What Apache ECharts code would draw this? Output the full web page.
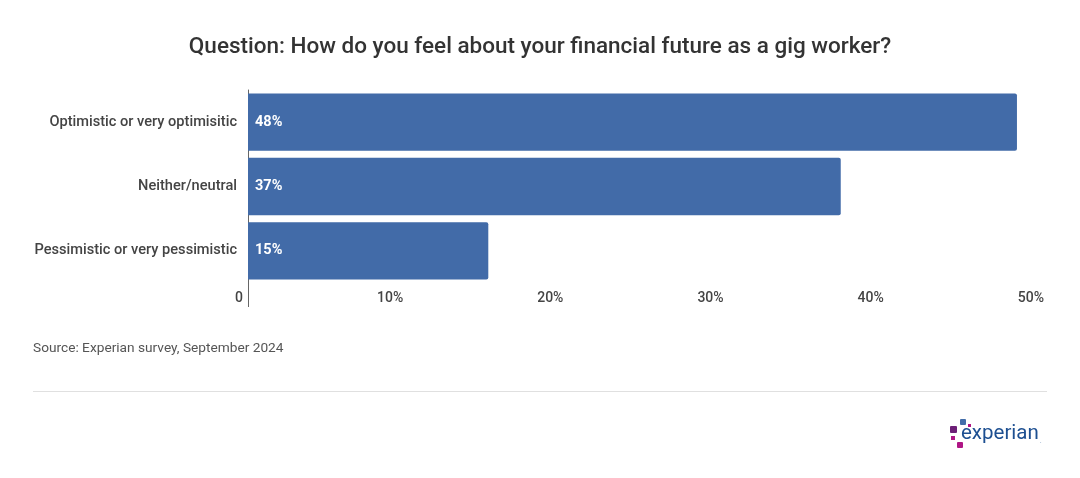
<!DOCTYPE html>
<html><head><meta charset="utf-8">
<script src="https://cdn.jsdelivr.net/npm/echarts@6/dist/echarts.min.js"></script>
<style>html,body{margin:0;padding:0;background:#fff}#c{width:1080px;height:478px}</style>
</head><body><div id="c"></div>
<script>
const categories = ["Optimistic or very optimisitic", "Neither/neutral", "Pessimistic or very pessimistic"];
const values = [48, 37, 15];
const tickValues = [0, 10, 20, 30, 40, 50];
const titleText = "Question: How do you feel about your financial future as a gig worker?";
const sourceText = "Source: Experian survey, September 2024";

const chart = echarts.init(document.getElementById('c'));
chart.setOption({
  animation: false,
  backgroundColor: '#fff',
  title: {
    text: titleText, left: 'center', top: 31,
    textStyle: {fontFamily: 'Roboto', fontSize: 22.5, fontWeight: 500, color: '#333'}
  },
  grid: {left: 248, right: 31, top: 90, height: 193},
  xAxis: {
    type: 'value', min: 0, max: 50, interval: 10,
    axisLine: {show: false}, axisTick: {show: false}, splitLine: {show: false},
    axisLabel: {
      margin: 8, align: 'right', padding: [0, 5, 0, 0],
      fontFamily: 'Roboto', fontSize: 14, fontWeight: 500, color: '#444',
      formatter: v => v === 0 ? '0' : v + '%'
    }
  },
  yAxis: {
    type: 'category', data: categories, inverse: true,
    axisLine: {show: true, lineStyle: {color: '#666', width: 1}},
    axisTick: {show: false},
    axisLabel: {margin: 11, fontFamily: 'Roboto', fontSize: 14.6, fontWeight: 500, color: '#444'}
  },
  series: [{
    type: 'bar', data: values, barCategoryGap: '11%',
    itemStyle: {color: '#426ba8', borderRadius: [0, 2, 2, 0]},
    label: {
      show: true, position: 'insideLeft', distance: 7,
      formatter: p => p.value + '%',
      fontFamily: 'Roboto', fontSize: 14.5, fontWeight: 'bold', color: '#fff'
    }
  }],
  graphic: [
    {type: 'line', shape: {x1: 248.5, y1: 283, x2: 248.5, y2: 307}, style: {stroke: '#666', lineWidth: 1}},
    {type: 'text', left: 33, top: 342, style: {text: sourceText, fontFamily: 'Roboto', fontSize: 13.7, fill: '#555'}},
    {type: 'line', shape: {x1: 33, y1: 391.5, x2: 1047, y2: 391.5}, style: {stroke: '#e0e0e0', lineWidth: 1}},
    {type: 'rect', shape: {x: 960, y: 419, width: 6, height: 6, r: 1}, style: {fill: '#426da9'}},
    {type: 'rect', shape: {x: 968, y: 424, width: 3, height: 3}, style: {fill: '#af1685'}},
    {type: 'rect', shape: {x: 950, y: 426, width: 7, height: 7, r: 1}, style: {fill: '#6d2077'}},
    {type: 'rect', shape: {x: 951, y: 436, width: 4, height: 4}, style: {fill: '#af1685'}},
    {type: 'rect', shape: {x: 957, y: 442, width: 6, height: 6, r: 1}, style: {fill: '#af1685'}},
    {type: 'text', left: 961, top: 423, style: {text: 'experian', fontFamily: 'Roboto', fontSize: 20.5, fill: '#1d4f91'}},
    {type: 'text', left: 1040, top: 438, style: {text: '.', fontFamily: 'Roboto', fontSize: 6, fill: '#1d4f91'}}
  ]
});
</script></body></html>
